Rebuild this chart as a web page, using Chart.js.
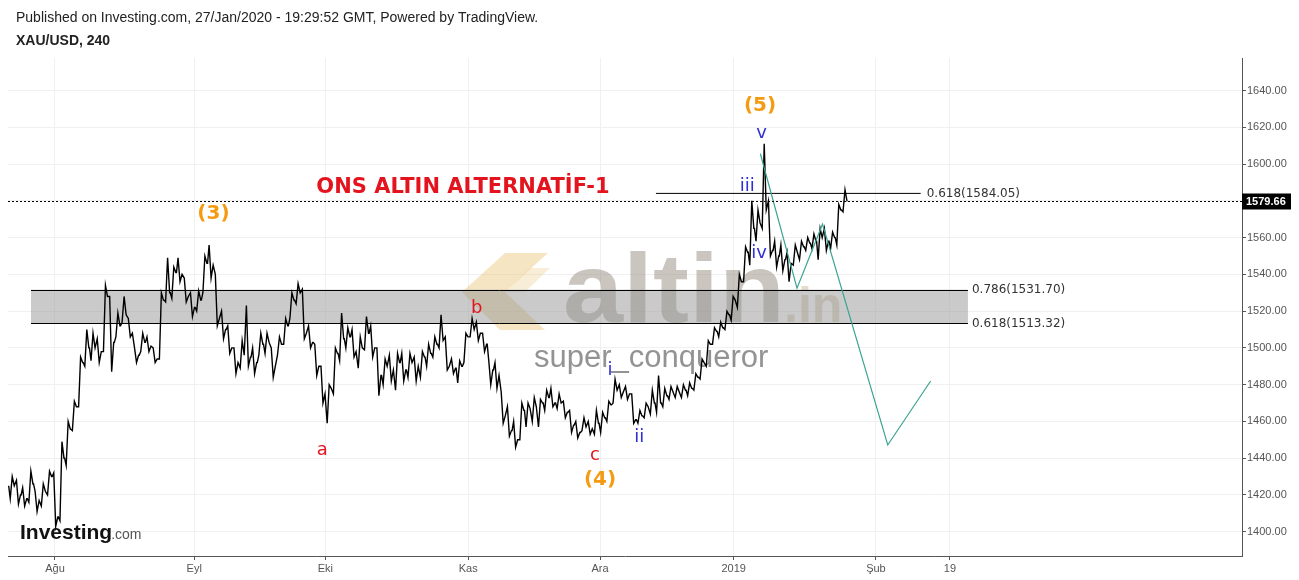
<!DOCTYPE html>
<html>
<head>
<meta charset="utf-8">
<script src="https://cdn.jsdelivr.net/npm/chart.js@4.4.1/dist/chart.umd.min.js"></script>
<style>
html,body{margin:0;padding:0;background:#fff;}
#wrap{width:1299px;height:580px;position:relative;overflow:hidden;}
</style>
</head>
<body>
<div id="wrap"><canvas id="c" width="1299" height="580"></canvas></div>
<script>
// ---------------- DATA ----------------
// x = trading-day index (0 = 1 Aug 2019), one entry per trading day starting at startDay
const startDay = -7;
const lows = [
 1418,1415,1414,1416,1411,1414,1420,
 1403,1406,1436,1455,1468,1490,1493,1492,1498,1487,
 1506,1514,1506,1492,1498,1498,1492,1494,1525,1527,
 1536,1525,1517,1520,1530,1538,1512,1505,1497,1486,
 1489,1490,1486,1496,1497,1484,1496,1502,1516,1524,
 1505,1500,1485,1470,1459,1475,1493,1500,1495,1489,
 1499,1495,1474,1480,1482,1477,1482,1484,1482,1484,
 1490,1495,1500,1488,1486,1481,1492,1506,1504,1498,
 1480,1478,1459,1452,1446,1450,1457,1460,1457,1466,
 1468,1467,1462,1454,1451,1455,1453,1453,1454,1460,
 1470,1473,1472,1459,1459,1462,1464,1465,1468,1472,
 1473,1473,1474,1477,1483,1490,1502,1506,1510,1515,
 1522,1536,1545,1558,1565,1550,1544,1542,1536,1545,
 1548,1553,1554,1548,1553,1554,1556,1574
];
const highs = [
 1430,1428,1424,1433,1422,1426,1433,
 1432,1449,1460,1471,1495,1510,1508,1505,1534,1528,
 1519,1528,1516,1500,1508,1506,1500,1530,1549,1544,
 1549,1538,1530,1531,1550,1556,1540,1520,1512,1500,
 1504,1523,1500,1508,1508,1500,1506,1516,1530,1535,
 1532,1512,1502,1490,1480,1500,1519,1511,1510,1506,
 1517,1512,1500,1494,1496,1497,1497,1497,1495,1498,
 1502,1506,1518,1506,1494,1493,1508,1516,1514,1508,
 1493,1492,1476,1468,1460,1470,1470,1473,1472,1477,
 1478,1475,1471,1466,1460,1462,1460,1466,1465,1471,
 1483,1480,1479,1475,1466,1470,1477,1485,1478,1479,
 1479,1480,1481,1486,1494,1504,1511,1514,1520,1528,
 1540,1555,1580,1575,1611,1580,1558,1556,1552,1556,
 1558,1560,1562,1565,1565,1563,1578,1586
];
const closes = [
 1425,1420,1418,1426,1417,1422,1430,
 1408,1440,1456,1468,1492,1500,1500,1498,1528,1503,
 1512,1518,1508,1496,1503,1501,1494,1526,1530,1541,
 1540,1528,1522,1526,1546,1545,1516,1510,1500,1492,
 1496,1495,1492,1502,1503,1490,1502,1512,1526,1530,
 1508,1503,1490,1475,1478,1497,1505,1506,1498,1500,
 1508,1500,1485,1490,1488,1492,1488,1492,1490,1495,
 1497,1502,1504,1490,1489,1490,1506,1510,1508,1502,
 1488,1485,1463,1455,1450,1466,1467,1468,1470,1473,
 1470,1470,1465,1458,1454,1457,1456,1459,1462,1469,
 1477,1476,1475,1461,1463,1468,1470,1470,1474,1476,
 1476,1477,1478,1484,1492,1502,1509,1511,1518,1526,
 1536,1552,1565,1568,1575,1553,1550,1548,1546,1552,
 1555,1557,1558,1560,1558,1560,1575,1579.66
];
const lastPrice = 1579.66;

// projection (teal) path
const projX = [113.5, 119.4, 123.5, 134.0, 140.9];
const projY = [1605.6, 1532.5, 1567.3, 1447.2, 1482.0];

// fibonacci levels
const fibLineLevel = 1584.05;   const fibLineRatio = '0.618';
const fibLineX = [96.7, 139.3];
const zoneTop = 1531.70;       const zoneTopRatio = '0.786';
const zoneBottom = 1513.32;    const zoneBottomRatio = '0.618';
const zoneX = [-3.86, 146.9];

// axis ticks
const yTicks = [1400,1420,1440,1460,1480,1500,1520,1540,1560,1580,1600,1620,1640];
const xTickPos = [0, 22.4, 43.5, 66.5, 87.7, 109.2, 132.1, 144];
const xTickLabels = ['Ağu','Eyl','Eki','Kas','Ara','2019','Şub','19'];

// wave labels
const waveText = ['(3)','(5)','(4)','a','b','c','i','ii','iii','iv','v'];
const waveX    = [25.5, 113.45, 87.7, 43.0, 67.85, 86.9, 89.3, 94.0, 111.4, 113.3, 113.7];
const waveY    = [1572.9, 1631.6, 1428.1, 1444.4, 1521.5, 1441.7, 1488.0, 1451.4, 1587.7, 1551.6, 1616.9];
const waveKind = ['major','major','major','abc','abc','abc','minor','minor','minor','minor','minor'];

const titleText = 'ONS ALTIN ALTERNATİF-1';
const titleX = 65.65, titleY = 1587.4;

// ---------------- BUILD ----------------
const pricePath = [];
let prevClose = closes[0];
for (let i = 0; i < lows.length; i++) {
  const d = startDay + i;
  const up = closes[i] >= prevClose;
  const a = up ? lows[i] : highs[i];
  const b = up ? highs[i] : lows[i];
  pricePath.push({x: d - 0.45, y: prevClose}, {x: d - 0.2, y: a}, {x: d + 0.12, y: b}, {x: d + 0.45, y: closes[i]});
  prevClose = closes[i];
}
const projData = projX.map((x, i) => ({x, y: projY[i]}));
const fibData = fibLineX.map(x => ({x, y: fibLineLevel}));

const styles = {
  major: {font: 'bold 20px "DejaVu Sans"', color: '#f59b12'},
  abc:   {font: '18px "DejaVu Sans"', color: '#e3141e'},
  minor: {font: '18px "DejaVu Sans"', color: '#2f2fd6'}
};

const decor = {
  id: 'decor',
  beforeDatasetsDraw(chart) {
    const ctx = chart.ctx, xs = chart.scales.x, ys = chart.scales.y, ca = chart.chartArea;
    ctx.save();
    ctx.beginPath(); ctx.rect(ca.left, ca.top, ca.right - ca.left, ca.bottom - ca.top); ctx.clip();
    // watermark logo
    ctx.fillStyle = 'rgba(232,192,110,0.42)';
    ctx.beginPath();
    ctx.moveTo(462,292); ctx.lineTo(505,253); ctx.lineTo(548,253); ctx.lineTo(505,292); ctx.closePath(); ctx.fill();
    ctx.beginPath();
    ctx.moveTo(462,292); ctx.lineTo(505,292); ctx.lineTo(545,330); ctx.lineTo(500,330); ctx.closePath(); ctx.fill();
    ctx.fillStyle = 'rgba(232,200,130,0.32)';
    ctx.beginPath();
    ctx.moveTo(505,292); ctx.lineTo(530,268); ctx.lineTo(550,268); ctx.lineTo(525,292); ctx.closePath(); ctx.fill();
    // watermark text
    ctx.font = 'bold 98px "Liberation Sans"';
    ctx.textBaseline = 'alphabetic'; ctx.textAlign = 'left';
    const w = ctx.measureText('altin').width;
    ctx.save();
    ctx.translate(563, 322); ctx.scale(222 / w, 1);
    ctx.fillStyle = 'rgba(150,140,128,0.5)';
    ctx.fillText('altin', 0, 0);
    ctx.restore();
    ctx.font = 'bold 50px "Liberation Sans"';
    ctx.fillStyle = 'rgba(205,185,150,0.5)';
    ctx.fillText('.in', 784, 322);
    ctx.font = '31px "Liberation Sans"';
    ctx.fillStyle = 'rgba(120,120,120,0.8)';
    ctx.fillText('super_conqueror', 534, 367);
    // zone
    const zx0 = xs.getPixelForValue(zoneX[0]), zx1 = xs.getPixelForValue(zoneX[1]);
    const zy0 = ys.getPixelForValue(zoneTop), zy1 = ys.getPixelForValue(zoneBottom);
    ctx.fillStyle = 'rgba(150,150,150,0.5)';
    ctx.fillRect(zx0, zy0, zx1 - zx0, zy1 - zy0);
    ctx.strokeStyle = '#000'; ctx.lineWidth = 1;
    ctx.beginPath();
    ctx.moveTo(zx0, Math.round(zy0) + 0.5); ctx.lineTo(zx1, Math.round(zy0) + 0.5);
    ctx.moveTo(zx0, Math.round(zy1) + 0.5); ctx.lineTo(zx1, Math.round(zy1) + 0.5);
    ctx.stroke();
    ctx.restore();
  },
  afterDatasetsDraw(chart) {
    const ctx = chart.ctx, xs = chart.scales.x, ys = chart.scales.y, ca = chart.chartArea;
    ctx.save();
    // last price dotted line
    const py = Math.round(ys.getPixelForValue(lastPrice)) + 0.5;
    ctx.strokeStyle = '#000'; ctx.lineWidth = 1; ctx.setLineDash([2, 2]);
    ctx.beginPath(); ctx.moveTo(ca.left, py); ctx.lineTo(ca.right, py); ctx.stroke();
    ctx.setLineDash([]);
    // fib labels
    ctx.font = '12px "DejaVu Sans"'; ctx.fillStyle = '#333'; ctx.textAlign = 'left'; ctx.textBaseline = 'middle';
    ctx.fillText(fibLineRatio + '(' + fibLineLevel.toFixed(2) + ')', xs.getPixelForValue(fibLineX[1]) + 6, ys.getPixelForValue(fibLineLevel));
    const zl = xs.getPixelForValue(zoneX[1]) + 4;
    ctx.fillText(zoneTopRatio + '(' + zoneTop.toFixed(2) + ')', zl, ys.getPixelForValue(zoneTop));
    ctx.fillText(zoneBottomRatio + '(' + zoneBottom.toFixed(2) + ')', zl, ys.getPixelForValue(zoneBottom));
    // wave labels
    ctx.textAlign = 'center';
    waveText.forEach((t, i) => {
      const s = styles[waveKind[i]];
      ctx.font = s.font; ctx.fillStyle = s.color;
      ctx.fillText(t, xs.getPixelForValue(waveX[i]), ys.getPixelForValue(waveY[i]));
    });
    ctx.font = 'bold 21px "DejaVu Sans"'; ctx.fillStyle = '#e3141e';
    ctx.fillText(titleText, xs.getPixelForValue(titleX), ys.getPixelForValue(titleY));
    // price label box
    ctx.fillStyle = '#000';
    ctx.fillRect(ca.right, py - 8, 49, 16);
    ctx.fillStyle = '#fff'; ctx.font = 'bold 11px "Liberation Sans"'; ctx.textAlign = 'left';
    ctx.fillText(lastPrice.toFixed(2), ca.right + 4, py + 0.5);
    // header
    ctx.fillStyle = '#222'; ctx.textBaseline = 'alphabetic';
    ctx.font = '14px "Liberation Sans"';
    ctx.fillText('Published on Investing.com, 27/Jan/2020 - 19:29:52 GMT, Powered by TradingView.', 16, 22);
    ctx.font = 'bold 14px "Liberation Sans"';
    ctx.fillText('XAU/USD, 240', 16, 45);
    // Investing.com logo
    ctx.font = 'bold 21px "Liberation Sans"'; ctx.fillStyle = '#111';
    ctx.fillText('Investing', 20, 539);
    const iw = ctx.measureText('Investing').width;
    ctx.font = '14px "Liberation Sans"'; ctx.fillStyle = '#555';
    ctx.fillText('.com', 19 + iw, 539);
    ctx.restore();
  }
};

new Chart(document.getElementById('c'), {
  type: 'line',
  data: {
    datasets: [
      {data: projData, borderColor: '#3aa391', borderWidth: 1.2, pointRadius: 0, tension: 0},
      {data: fibData, borderColor: '#000', borderWidth: 1, pointRadius: 0},
      {data: pricePath, borderColor: '#000', borderWidth: 1.4, pointRadius: 0, tension: 0}
    ]
  },
  options: {
    responsive: false, animation: false, devicePixelRatio: 1,
    layout: {padding: {left: 8, top: 58, right: 0, bottom: 0}},
    plugins: {legend: {display: false}, tooltip: {enabled: false}},
    scales: {
      x: {
        type: 'linear', min: -7.56, max: 191.0,
        afterFit(s) { s.height = 24; },
        afterBuildTicks(s) { s.ticks = xTickPos.map(v => ({value: v})); },
        ticks: {autoSkip: false, maxRotation: 0, padding: 2, color: '#555',
                font: {family: '"Liberation Sans"', size: 11},
                callback: (v, i) => xTickLabels[i]},
        grid: {color: '#f0f0f0', tickColor: '#555', tickLength: 4},
        border: {color: '#555', width: 1}
      },
      y: {
        position: 'right', min: 1386.8, max: 1657.7,
        afterFit(s) { s.width = 57; },
        afterBuildTicks(s) { s.ticks = yTicks.map(v => ({value: v})); },
        ticks: {padding: 1, color: '#555', font: {family: '"Liberation Sans"', size: 11},
                callback: v => Number(v).toFixed(2)},
        grid: {color: '#f0f0f0', tickColor: '#555', tickLength: 4},
        border: {color: '#555', width: 1}
      }
    }
  },
  plugins: [decor]
});
</script>
</body>
</html>
